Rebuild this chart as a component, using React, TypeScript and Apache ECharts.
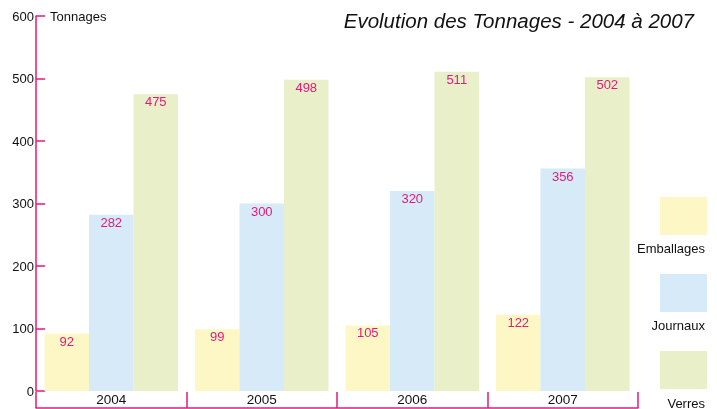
import React, { useEffect, useRef } from "react";
import * as echarts from "echarts";

const years = ["2004", "2005", "2006", "2007"];
const emballages = [92, 99, 105, 122];
const journaux = [282, 300, 320, 356];
const verres = [475, 498, 511, 502];
const seriesNames = ["Emballages", "Journaux", "Verres"];
const seriesColors = ["#fdf7c5", "#d6eaf8", "#e9efc9"];
const yTicks = { min: 0, max: 600, interval: 100 };

const PINK = "#e5197c";
const FONT = "Liberation Sans, Arial, sans-serif";

export default function App() {
  const ref = useRef<HTMLDivElement>(null);
  useEffect(() => {
    if (!ref.current) return;
    const chart = echarts.init(ref.current, undefined, { renderer: "svg" });
    const dataSets = [emballages, journaux, verres];
    chart.setOption({
      animation: false,
      textStyle: { fontFamily: FONT },
      title: {
        text: "Evolution des Tonnages - 2004 à 2007",
        right: 18,
        top: 5,
        textStyle: { fontFamily: FONT, fontSize: 20.5, fontStyle: "italic", fontWeight: "normal", color: "#111" },
      },
      grid: { left: 36, right: 79, top: 16, bottom: 18, containLabel: false },
      legend: [
        {
          data: seriesNames,
          orient: "vertical",
          left: 660,
          top: 197,
          height: 250,
          padding: 0,
          itemWidth: 47,
          itemHeight: 38,
          itemGap: 39,
          icon: "rect",
          formatter: () => "",
          selectedMode: false,
        },
        {
          data: seriesNames.map((n) => ({ name: n, icon: "none" })),
          orient: "vertical",
          align: "right",
          right: 7,
          top: 229,
          height: 300,
          padding: 0,
          itemWidth: 0,
          itemHeight: 38,
          itemGap: 52,
          selectedMode: false,
          textStyle: { fontFamily: FONT, fontSize: 13, color: "#111" },
        },
      ],
      xAxis: {
        type: "category",
        data: years,
        position: "bottom",
        offset: 17,
        axisLine: { show: true, onZero: false, lineStyle: { color: PINK, width: 1.5 } },
        axisTick: { show: true, inside: true, length: 16, alignWithLabel: false, lineStyle: { color: PINK, width: 1.5 } },
        axisLabel: { inside: true, margin: 2, color: "#111", fontSize: 13.5, fontFamily: FONT },
        splitLine: { show: false },
      },
      yAxis: {
        type: "value",
        min: yTicks.min,
        max: yTicks.max,
        interval: yTicks.interval,
        name: "Tonnages",
        nameLocation: "end",
        nameGap: 0,
        nameTextStyle: { align: "left", verticalAlign: "middle", padding: [0, 0, 0, 14], color: "#111", fontSize: 13, fontFamily: FONT },
        axisLine: { show: true, lineStyle: { color: PINK, width: 1.5 } },
        axisTick: { show: true, inside: true, length: 9, lineStyle: { color: PINK, width: 1.5 } },
        axisLabel: { margin: 2, color: "#111", fontSize: 13, fontFamily: FONT },
        splitLine: { show: false },
      },
      series: seriesNames.map((name, i) => ({
        name,
        type: "bar",
        data: dataSets[i],
        barWidth: 44.5,
        barGap: "0%",
        itemStyle: { color: seriesColors[i] },
        label: {
          show: true,
          position: "insideTop",
          distance: 1,
          color: PINK,
          fontSize: 13,
          fontFamily: FONT,
        },
      })),
    });
    return () => chart.dispose();
  }, []);
  return <div ref={ref} style={{ position: "fixed", left: 0, top: 0, width: 717, height: 409 }} />;
}
